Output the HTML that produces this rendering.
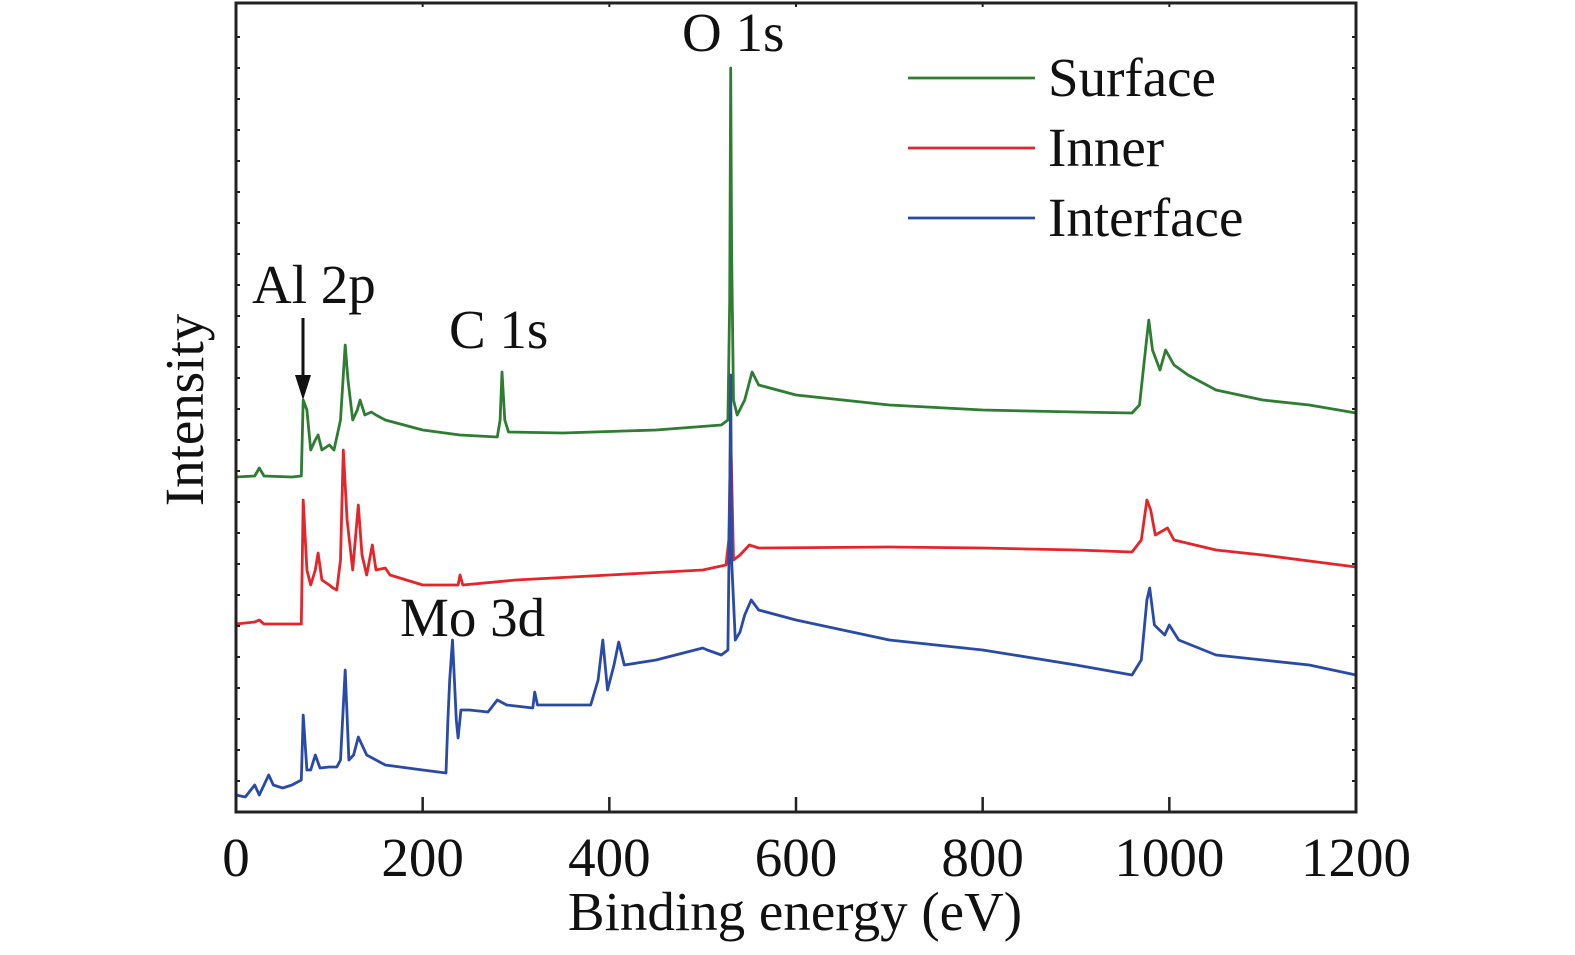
<!DOCTYPE html>
<html><head><meta charset="utf-8"><style>
html,body{margin:0;padding:0;background:#fff;}
svg{display:block;font-family:"Liberation Serif",serif;}
</style></head><body>
<svg id="chart" width="1575" height="955">
<g id="plot"></g>
</svg>
<script>
const categoriesX = [0,200,400,600,800,1000,1200];
const tickLabels = ["0","200","400","600","800","1000","1200"];
const seriesNames = ["Surface","Inner","Interface"];
const seriesColors = ["#2e7d32","#e4262a","#2a4aa8"];
const surfaceE = [0,20,25,30,60,70,72,76,80,85,88,92,100,105,112,117,120,125,130,133,138,145,150,160,200,240,280,283,285,288,292,350,450,520,527,529,530,531,533,537,545,553,560,600,620,700,800,900,960,968,975,978,982,990,996,1005,1020,1050,1100,1150,1200];
const surfaceI = [335,336,344,336,335,336,412,402,362,372,377,362,367,362,392,467,432,392,402,412,397,400,397,392,382,377,375,392,440,392,380,379,382,387,392,512,744,562,412,397,412,440,427,417,415,407,402,400,399,407,467,492,462,442,462,447,437,422,412,407,399];
const innerE = [0,20,25,30,70,72,76,80,85,88,92,100,104,108,112,115,119,125,131,135,140,146,150,160,165,200,238,240,243,300,400,500,525,528,530,533,540,550,560,700,800,900,960,970,976,980,985,998,1005,1050,1100,1200];
const innerI = [188,190,192,188,188,312,242,227,242,259,232,227,224,222,252,362,292,242,307,257,237,267,242,244,237,227,227,237,227,232,237,242,247,272,380,252,257,267,264,265,264,262,260,272,312,302,277,284,272,262,257,245];
const interfaceE = [0,10,20,25,30,35,40,50,60,70,72,76,80,85,90,100,108,112,117,121,126,131,140,150,160,200,225,227,229,232,236,238,241,250,270,280,290,318,320,323,380,388,393,398,405,410,416,450,500,505,520,527,529,530,531,535,540,545,552,560,600,700,800,900,960,970,976,979,984,995,1000,1010,1050,1100,1150,1200];
const interfaceI = [17,15,27,17,27,37,27,24,27,32,97,42,42,57,44,45,45,52,142,52,57,75,57,52,47,42,39,92,132,172,92,74,102,102,100,112,107,104,120,107,107,132,172,122,147,170,147,152,164,162,157,162,312,437,252,172,180,197,212,202,192,172,162,147,137,152,212,224,187,177,187,172,157,152,147,137];

const X0=236,X1=1356,Y0=812,Y1=3;
const xs=v=>X0+(v/1200)*(X1-X0);
const ys=v=>Y0-(v/809)*(Y0-Y1);
const NS="http://www.w3.org/2000/svg";
const g=document.getElementById('plot');
function mk(t,a){const e=document.createElementNS(NS,t);for(const k in a)e.setAttribute(k,a[k]);g.appendChild(e);return e;}

const data=[[surfaceE,surfaceI],[innerE,innerI],[interfaceE,interfaceI]];
data.forEach((d,i)=>{
  const pts=d[0].map((e,j)=>xs(e).toFixed(1)+","+ys(d[1][j]).toFixed(1)).join(" ");
  const p=mk('polyline',{points:pts,fill:"none",stroke:seriesColors[i],"stroke-width":2.8,"stroke-linejoin":"round"});
  
  
});

const frame=mk('rect',{x:X0,y:Y1,width:X1-X0,height:Y0-Y1,fill:"none",stroke:"#222","stroke-width":3});



for(let y=Y0-31;y>Y1+5;y-=31){
  const t1=mk('line',{x1:X0,x2:X0+4,y1:y,y2:y,stroke:"#222","stroke-width":2});
  
  
  const t2=mk('line',{x1:X1,x2:X1-4,y1:y,y2:y,stroke:"#222","stroke-width":2});
  
  
}
categoriesX.forEach((v,i)=>{
  const t=mk('line',{x1:xs(v),x2:xs(v),y1:Y0,y2:Y0-15,stroke:"#222","stroke-width":2.5});
  
  
  const tt=mk('line',{x1:xs(v),x2:xs(v),y1:Y1,y2:Y1+4,stroke:"#222","stroke-width":2});
  
  
  const l=mk('text',{x:xs(v),y:876,"text-anchor":"middle","font-size":55,fill:"#111"});
  l.textContent=tickLabels[i];
  
  
});
</script>
<svg width="1575" height="955" style="position:absolute;left:0;top:0;font-family:'Liberation Serif',serif">
<text x="795" y="930" text-anchor="middle" font-size="55" fill="#111">Binding energy (eV)</text>
<text transform="translate(203,410) rotate(-90)" text-anchor="middle" font-size="55" fill="#111">Intensity</text>
<text x="682" y="51" font-size="55" fill="#111">O 1s</text>
<text x="252" y="303" font-size="55" fill="#111">Al 2p</text>
<text x="449" y="348" font-size="55" fill="#111">C 1s</text>
<text x="400" y="636" font-size="55" fill="#111">Mo 3d</text>
<line x1="303" y1="318" x2="303" y2="380" stroke="#111" stroke-width="3"/>
<polygon points="295,375 311,375 303,400" fill="#111"/>
<g>
<line x1="908" x2="1035" y1="78" y2="78" stroke="#2e7d32" stroke-width="2.8"/>
<text x="1048" y="96" font-size="55" fill="#111">Surface</text>
<line x1="908" x2="1035" y1="148" y2="148" stroke="#e4262a" stroke-width="2.8"/>
<text x="1048" y="166" font-size="55" fill="#111">Inner</text>
<line x1="908" x2="1035" y1="218" y2="218" stroke="#2a4aa8" stroke-width="2.8"/>
<text x="1048" y="236" font-size="55" fill="#111">Interface</text>
</g>
</svg>
</body></html>
